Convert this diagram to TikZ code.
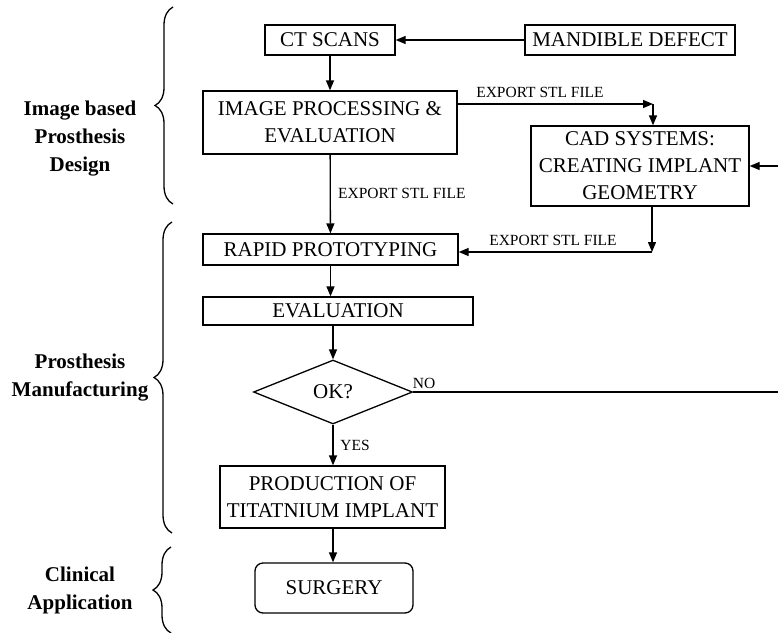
\documentclass[tikz,border=0pt]{standalone}
\usepackage{fontspec}
\setmainfont{Liberation Serif}
\usetikzlibrary{arrows.meta,positioning,calc,shapes.geometric,decorations.pathreplacing}

\tikzset{
  box/.style={draw,line width=1.3pt,inner sep=0pt,align=center,font=\fontsize{21}{27}\selectfont},
  lbl/.style={inner sep=0pt,font=\fontsize{15.5}{18}\selectfont},
  grp/.style={inner sep=0pt,align=center,font=\fontsize{21}{28}\selectfont\bfseries},
  arr/.style={-{Triangle[length=10pt,width=8pt]},line width=1.3pt},
  brc/.style={decorate,decoration={brace,amplitude=18pt},line width=1.3pt},
}

\begin{document}
\begin{tikzpicture}[x=1pt,y=-1pt]
  \useasboundingbox (0,0) rectangle (778,632);
  % boxes of the flow
  \node[box,minimum width=130pt,minimum height=30pt] (ct) at (330,40) {CT SCANS};
  \node[box,minimum width=210pt,minimum height=30pt] (mand) at (630,40) {MANDIBLE DEFECT};
  \node[box,minimum width=254pt,minimum height=63pt] (img) at (330,122.5)
    {IMAGE PROCESSING \&\\EVALUATION};
  \node[box,minimum width=218pt,minimum height=80pt] (cad) at (640,166)
    {CAD SYSTEMS:\\CREATING IMPLANT\\GEOMETRY};
  \node[box,minimum width=255pt,minimum height=31pt] (rp) at (330.5,249.5) {RAPID PROTOTYPING};
  \node[box,minimum width=270pt,minimum height=28pt] (eval) at (338,311) {EVALUATION};
  \node[box,diamond,aspect=2.5,minimum width=159pt,minimum height=64pt] (ok) at (333,392) {OK?};
  \node[box,minimum width=225pt,minimum height=62pt] (prod) at (332.5,497)
    {PRODUCTION OF\\TITATNIUM IMPLANT};
  \node[box,rounded corners=8pt,minimum width=158pt,minimum height=50pt] (surg) at (334,588) {SURGERY};

  % bends and loose ends
  \coordinate (c1) at (653,104);
  \coordinate (c2) at (652,252);
  \coordinate (c3) at (778,392);
  \coordinate (c4) at (778,166);

  % connectors
  \draw[arr] (mand) -- (ct);
  \draw[arr] (ct) -- (img);
  \draw[arr] (img.east |- c1) -- (c1);
  \draw[arr] (c1) -- (c1 |- cad.north);
  \draw[arr] (img) -- (rp);
  \draw[arr] (c2 |- cad.south) -- (c2);
  \draw[arr] (c2) -- (rp.east |- c2);
  \draw[arr] (c4) -- (cad.east |- c4);
  \draw[arr] (rp.south) -- (rp.south |- eval.north);
  \draw[arr] (ok.north |- eval.south) -- (ok.north);
  \draw[line width=1.3pt] (ok.east) -- (c3);
  \draw[arr] (ok.south) -- (ok.south |- prod.north);
  \draw[arr] (ok.south |- prod.south) -- (ok.south |- surg.north);

  % connector labels
  \node[lbl] (ex1) at (540,92) {EXPORT STL FILE};
  \node[lbl] (ex2) at (553,240) {EXPORT STL FILE};
  \node[lbl,anchor=west] (ex3) at (338,193) {EXPORT STL FILE};
  \node[lbl] (no) at (424,383) {NO};
  \node[lbl] (yes) at (355,445) {YES};

  % phases
  \draw[brc] (173,204) -- (173,7);
  \draw[brc] (172,533) -- (172,222);
  \draw[brc] (171,633) -- (171,547);
  \node[grp] (design) at (80,139) {Image based\\Prosthesis\\Design};
  \node[grp] (manuf) at (80,378) {Prosthesis\\Manufacturing};
  \node[grp] (clin) at (80,590) {Clinical\\Application};
\end{tikzpicture}
\end{document}
